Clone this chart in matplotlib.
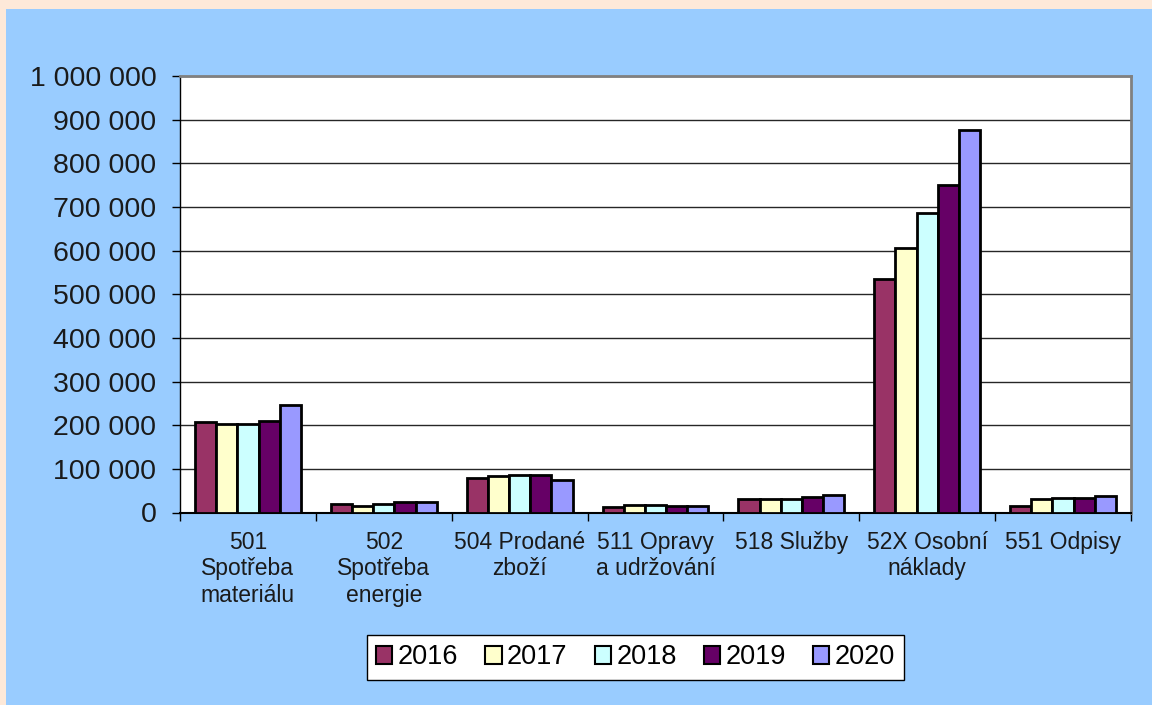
import matplotlib
matplotlib.use("Agg")
import matplotlib.pyplot as plt
from matplotlib.patches import Patch, Rectangle
from matplotlib.ticker import FuncFormatter, FixedLocator
import numpy as np

plt.rcParams["font.family"] = ["Liberation Sans", "DejaVu Sans"]

categories = [
    "501\nSpotřeba\nmateriálu",
    "502\nSpotřeba\nenergie",
    "504 Prodané\nzboží",
    "511 Opravy\na udržování",
    "518 Služby",
    "52X Osobní\nnáklady",
    "551 Odpisy",
]
years = ["2016", "2017", "2018", "2019", "2020"]
values = {
    "2016": [207000, 20000, 80000, 13000, 32000, 536000, 15000],
    "2017": [203000, 16000, 83000, 17000, 31000, 606000, 31000],
    "2018": [203000, 20000, 86000, 17000, 31000, 687000, 34000],
    "2019": [209000, 24000, 87000, 14000, 36000, 750000, 34000],
    "2020": [247000, 24000, 74000, 14000, 40000, 876000, 37000],
}
colors = ["#993366", "#FFFFCC", "#CCFFFF", "#660066", "#9999FF"]

fig = plt.figure(figsize=(11.52, 7.05), dpi=100, facecolor="#FDE9D9")
fig.patches.append(Rectangle((6 / 1152, 0), 1, 1 - 9 / 705,
                             transform=fig.transFigure, facecolor="#99CCFF",
                             edgecolor="none", zorder=-10))

ax = fig.add_axes([180 / 1152, 1 - 512.5 / 705, (1131 - 180) / 1152, (512.5 - 76) / 705])
ax.set_facecolor("white")

x = np.arange(len(categories))
w = 0.156
for j, year in enumerate(years):
    ax.bar(x + (j - 2) * w, values[year], width=w, color=colors[j],
           edgecolor="black", linewidth=2.0, zorder=3, label=year)

ax.set_xlim(-0.5, len(categories) - 0.5)
ax.set_ylim(0, 1000000)
ax.set_yticks(np.arange(0, 1000001, 100000))
ax.yaxis.set_major_formatter(FuncFormatter(lambda v, p: f"{v:,.0f}".replace(",", " ")))
ax.yaxis.grid(True, color="#262626", linewidth=1.0, zorder=0)
ax.set_axisbelow(True)

# ticks at category boundaries, labels at centres
ax.xaxis.set_major_locator(FixedLocator(np.arange(-0.5, len(categories), 1.0)))
ax.xaxis.set_minor_locator(FixedLocator(x))
ax.set_xticklabels([""] * (len(categories) + 1))
ax.set_xticklabels(categories, minor=True, linespacing=1.2)
ax.tick_params(axis="x", which="major", direction="out", length=6, width=1, color="black")
ax.tick_params(axis="x", which="minor", length=0, pad=13, labelsize=16.5, labelcolor="#1a1a1a")
ax.tick_params(axis="y", direction="out", length=6, width=1, color="black",
               pad=11, labelsize=20.5, labelcolor="#1a1a1a")

ax.spines["left"].set_color("black")
ax.spines["left"].set_linewidth(1.0)
ax.spines["bottom"].set_color("black")
ax.spines["bottom"].set_linewidth(1.5)
for s in ["top", "right"]:
    ax.spines[s].set_color("#808080")
    ax.spines[s].set_linewidth(2)

handles = [Patch(facecolor=c, edgecolor="black", linewidth=1.5) for c in colors]
leg = fig.legend(handles, years, loc="center", bbox_to_anchor=(635.5 / 1152, 1 - 657.5 / 705),
                 ncol=5, fontsize=19.5, frameon=True, fancybox=False, shadow=False,
                 handlelength=0.6, handleheight=0.6, handletextpad=0.2,
                 columnspacing=1.0, borderpad=0.35, borderaxespad=0)
leg.get_frame().set_edgecolor("black")
leg.get_frame().set_linewidth(1.0)
leg.get_frame().set_facecolor("white")
leg.get_frame().set_alpha(1)

fig.savefig("out.png", dpi=100, facecolor=fig.get_facecolor())
plt.close(fig)
